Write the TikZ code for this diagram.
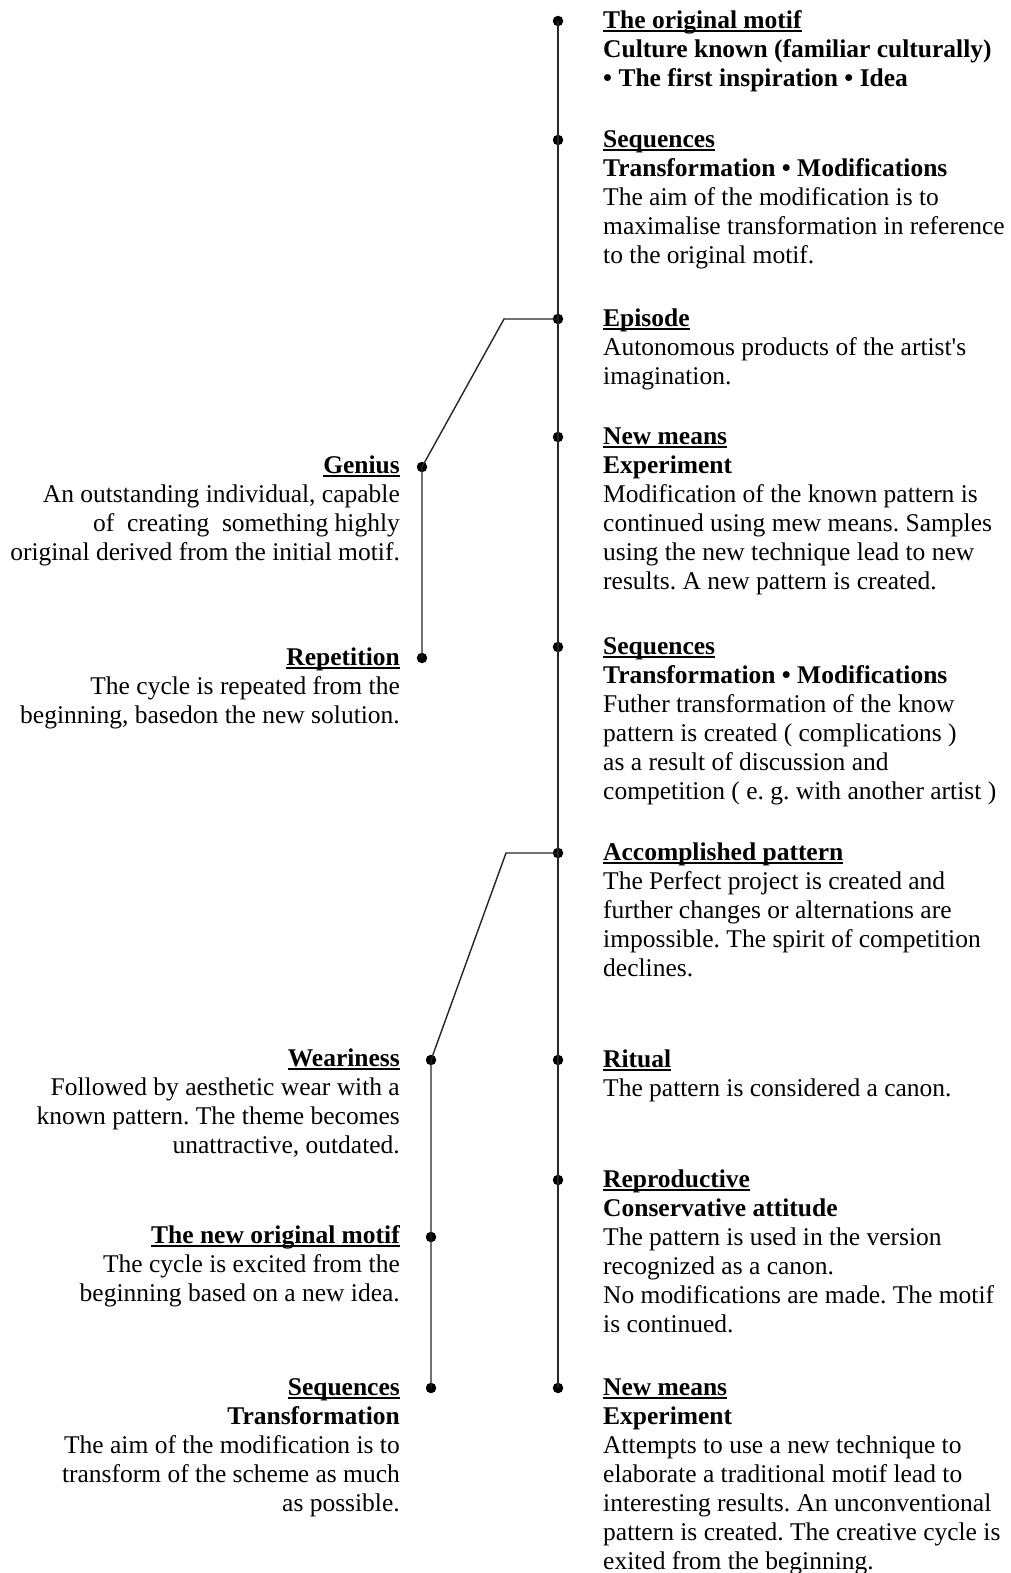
\documentclass[tikz,border=0pt]{standalone}
\usepackage{fontspec}
\setmainfont{Liberation Serif}
\frenchspacing
\newsavebox\myhdbox
\newcommand\myhd[1]{\sbox\myhdbox{\bfseries #1}\rlap{\rule[-3.5pt]{\wd\myhdbox}{1.7pt}}\usebox\myhdbox\strut}
\begin{document}
\begin{tikzpicture}[x=1pt,y=-1pt,
  dotn/.style={circle,fill=black,inner sep=0pt,minimum size=10.5pt},
  conn/.style={line width=1.4pt,black!85},
  rtext/.style={anchor=north west,align=left,inner sep=0pt,font=\fontsize{25.5}{29}\selectfont},
  ltext/.style={anchor=north east,align=right,inner sep=0pt,font=\fontsize{25.5}{29}\selectfont}]
\useasboundingbox[fill=white] (0,0) rectangle (1011,1573);

% main spine dots
\node[dotn] (r1) at (558,21) {};
\node[dotn] (r2) at (558,140) {};
\node[dotn] (r3) at (558,319) {};
\node[dotn] (r4) at (558,437) {};
\node[dotn] (r5) at (558,647) {};
\node[dotn] (r6) at (558,853) {};
\node[dotn] (r7) at (558,1060) {};
\node[dotn] (r8) at (558,1180) {};
\node[dotn] (r9) at (558,1388) {};
% left dots
\node[dotn] (d1) at (422,467) {};
\node[dotn] (d2) at (422,658) {};
\node[dotn] (d3) at (431,1060) {};
\node[dotn] (d4) at (431,1237) {};
\node[dotn] (d5) at (431,1388) {};
\coordinate (b1) at (504,319);
\coordinate (b2) at (506,853);

\draw[conn] (r1.center) -- (r9.center);
\draw[conn] (r3.center) -- (b1) -- (d1.center) -- (d2.center);
\draw[conn] (r6.center) -- (b2) -- (d3.center) -- (d5.center);

% right texts
\node[rtext] (t1) at (603,7.7) {\myhd{The original motif}\\\textbf{Culture known (familiar culturally)}\\\textbf{\textbullet{} The first inspiration \textbullet{} Idea}};
\node[rtext] (t2) at (603,126.7) {\myhd{Sequences}\\\textbf{Transformation \textbullet{} Modifications}\\The aim of the modification is to\\maximalise transformation in reference\\to the original motif.};
\node[rtext] (t3) at (603,305.7) {\myhd{Episode}\\Autonomous products of the artist\textquotesingle s\\imagination.};
\node[rtext] (t4) at (603,423.7) {\myhd{New means}\\\textbf{Experiment}\\Modification of the known pattern is\\continued using mew means. Samples\\using the new technique lead to new\\results. A new pattern is created.};
\node[rtext] (t5) at (603,633.7) {\myhd{Sequences}\\\textbf{Transformation \textbullet{} Modifications}\\Futher transformation of the know\\pattern is created ( complications )\\as a result of discussion and\\competition ( e. g. with another artist )};
\node[rtext] (t6) at (603,839.7) {\myhd{Accomplished pattern}\\The Perfect project is created and\\further changes or alternations are\\impossible. The spirit of competition\\declines.};
\node[rtext] (t7) at (603,1046.7) {\myhd{Ritual}\\The pattern is considered a canon.};
\node[rtext] (t8) at (603,1166.7) {\myhd{Reproductive}\\\textbf{Conservative attitude}\\The pattern is used in the version\\recognized as a canon.\\No modifications are made. The motif\\is continued.};
\node[rtext] (t9) at (603,1374.7) {\myhd{New means}\\\textbf{Experiment}\\Attempts to use a new technique to\\elaborate a traditional motif lead to\\interesting results. An unconventional\\pattern is created. The creative cycle is\\exited from the beginning.};

% left texts
\node[ltext] (s1) at (400,452.7) {\myhd{Genius}\\An outstanding individual, capable\\of\ \ creating\ \ something highly\\original derived from the initial motif.};
\node[ltext] (s2) at (400,644.7) {\myhd{Repetition}\\The cycle is repeated from the\\beginning, basedon the new solution.};
\node[ltext] (s3) at (400,1045.7) {\myhd{Weariness}\\Followed by aesthetic wear with a\\known pattern. The theme becomes\\unattractive, outdated.};
\node[ltext] (s4) at (400,1222.7) {\myhd{The new original motif}\\The cycle is excited from the\\beginning based on a new idea.};
\node[ltext] (s5) at (400,1374.7) {\myhd{Sequences}\\\textbf{Transformation}\\The aim of the modification is to\\transform of the scheme as much\\as possible.};
\end{tikzpicture}
\end{document}
